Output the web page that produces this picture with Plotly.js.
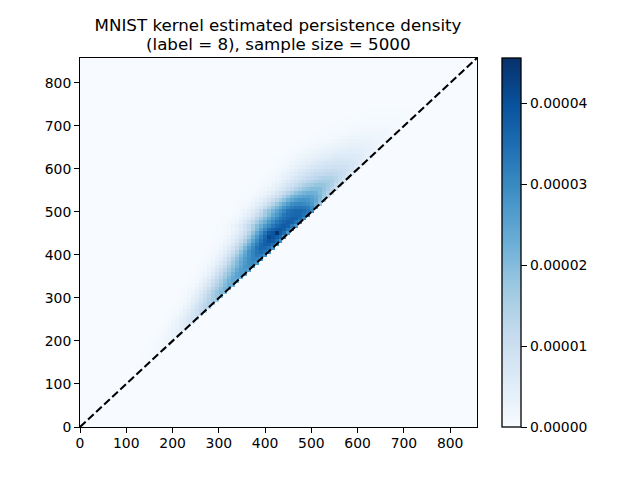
<!DOCTYPE html>
<html><head><meta charset="utf-8">
<script src="https://cdn.plot.ly/plotly-3.0.1.min.js"></script>
<style>html,body{margin:0;padding:0;background:#fff}</style></head>
<body><div id="chart" style="width:640px;height:480px"></div>
<script>
// density values in units of 1e-6; each row is listed from the diagonal going left
const firstRow = 12;
const gridSize = 100;
const cellSize = 8.58;
const densityScale = 1e-6;
const titleLines = ["MNIST kernel estimated persistence density", "(label = 8), sample size = 5000"];
const axisTicks = [0,100,200,300,400,500,600,700,800];
const barTicks = [0,0.00001,0.00002,0.00003,0.00004];
const diagonalEnds = [0,858];
const rows = [
[.1,.1],
[.15,.1,.1],
[.2,.2,.1],
[.25,.25,.15,.1],
[.3,.3,.2,.1],
[.4,.4,.3,.15,.1],
[.5,.5,.4,.2,.1],
[.7,.7,.6,.35,.2,.1],
[1,1,.8,.5,.3,.1],
[1.4,1.3,1.1,.7,.4,.2,.1],
[2,1.8,1.4,1,.6,.3,.1],
[2.4,2.3,1.8,1.2,.8,.4,.2,.1],
[3,2.8,2.2,1.5,1,.5,.2,.1],
[4,3.6,2.9,2,1.3,.7,.3,.1],
[5,4.5,3.6,2.6,1.7,1,.5,.2,.1],
[6.5,5.7,4.5,3.3,2.2,1.4,.7,.3,.1],
[8,7,5.5,4,2.8,1.8,1,.5,.2,.1],
[9.5,8.5,6.7,5,3.4,2.3,1.3,.7,.3,.1],
[11,10,8,6,4,2.8,1.6,.9,.4,.2,.1],
[12.5,11.5,9.5,7.2,5,3.4,2.1,1.2,.6,.3,.1],
[14,13,11,8.5,6,4,2.6,1.5,.8,.4,.2,.1],
[15.5,14.5,12.5,10,7.2,5,3.3,1.9,1.1,.5,.2,.1],
[17,16,14,11.5,8.5,6,4,2.4,1.4,.7,.3,.1],
[18.5,18,16,13,10,7.2,5,3.1,1.8,1,.5,.2,.1],
[20,20,18,15,12,8.5,6,3.8,2.3,1.3,.7,.3,.1],
[21,21.5,19,16,13,10,7,4.6,2.9,1.7,.9,.4,.2,.1],
[22,23,20,17,14,11,8,5.5,3.5,2.1,1.2,.6,.3,.1],
[23,24,22,19,15.5,12.5,9.5,6.5,4.2,2.6,1.5,.8,.4,.1],
[24,25,23.5,20.5,17,14,11,7.5,5,3.2,1.9,1,.5,.2,.1],
[25,26,25,22,18.5,15.5,12,8.7,6,3.9,2.4,1.3,.7,.3,.1],
[26,27,26,23.5,20,17,13,10,7,4.6,2.9,1.7,.9,.5,.2,.1],
[26.5,28.5,27.5,25,21.5,18.5,15,11,8.2,5.5,3.6,2.2,1.2,.7,.3,.1],
[27,30,29,27,24,20.5,17,13,9.5,6.5,4.3,2.7,1.6,.9,.5,.2,.1],
[27.5,31,31,29,26,23,19,15,11,7.7,5.1,3.3,2,1.1,.6,.3,.1],
[28,32,33,31,28,25,21,17,12.5,9,6,4,2.5,1.4,.8,.4,.2,.1],
[28.5,33.5,35,33.5,31,28,23.5,19,14,10.5,7.2,4.7,3,1.8,1,.5,.3,.1],
[29,34,36,36,34,30,26,21,16,12,8.5,5.5,3.6,2.2,1.3,.7,.4,.2,.1],
[29,34.5,37,37.5,35.5,32,28,23,18,13.5,9.7,6.5,4.3,2.7,1.6,.9,.5,.2,.1],
[29,35,38,39,37,34,30,25,20,15,11,7.5,5,3.2,2,1.1,.6,.3,.1],
[28.5,35,38,39.5,41,36,32,27,22,17,12.5,8.7,6,3.9,2.4,1.4,.8,.4,.2,.1],
[28,35,38,45,39,38,34,29,24,19,14,10,7,4.6,3,1.8,1,.5,.3,.1],
[28,33.5,37.5,39,38,36.5,34,30,25.5,20.5,16,12,8.5,5.7,3.7,2.2,1.3,.7,.4,.2,.1],
[28,33,37,38,37,35.5,33,30,27,23,19.5,15.5,12,8.5,6,4,2.5,1.5,.9,.5,.2,.1],
[30,34,37,37.5,36.5,35,33,30,27,23,20,16,12.5,9,6.3,4.3,2.8,1.7,1,.5,.3,.1],
[31,35,37,37,36,34.5,33,30,27,23.5,20,16.5,13,9.5,6.7,4.6,3,1.9,1.1,.6,.3,.2,.1],
[32,34,36,36,35.5,34.5,33,30,27,24,20,16.5,13,10,7,5,3.2,2,1.2,.7,.4,.2,.1],
[30,33,35,36,36,35,34,31,28,25,21.5,18.5,15.5,11.5,8,5.7,3.7,2.3,1.4,.8,.4,.2,.1],
[24,29,32,33,33.5,33,32,30,27.5,24.5,21,18,14.5,11,8,5.7,3.9,2.5,1.6,.9,.5,.2,.1],
[18,23,27,29,30,30.5,30,29,26.5,23.5,20.5,17.5,14,11,8.3,6,4.2,2.8,1.7,1,.6,.3,.1],
[15,20,24,26,27.5,28,27.5,26.5,24.5,22,19,16,13,10.2,7.8,5.7,4.2,3,2,1.2,.7,.4,.2,.1],
[12.5,17,21,23.5,25,25.5,25,24,23,21,18,15,12,9.8,7.5,5.6,4.1,3,2,1.3,.8,.5,.3,.1],
[10,14,17.5,20,22,22.5,22.5,21.5,20.5,18.5,16,13.5,11,9,7,5.3,4,2.9,2,1.3,.8,.5,.3,.2,.1],
[9,13,16,18,20,20,20,19,18,16,14,12,10,8,6.3,4.9,3.7,2.8,1.9,1.3,.8,.5,.3,.2,.1],
[8,11.5,14.5,16.5,18,18,18,17,16,14.5,13,11,9.2,7.7,6.1,4.7,3.6,2.7,1.9,1.3,.8,.5,.3,.2,.1],
[7,10,13,15,16,16,16,15,14,13,12,10.5,9,7.5,6,4.7,3.6,2.7,1.9,1.3,.9,.6,.4,.2,.1],
[6,9,11.5,13.2,14,14.2,14.2,13.5,12.7,12,11,9.7,8.5,7.2,5.9,4.6,3.6,2.7,2,1.4,.9,.6,.4,.2,.1],
[5,8,10,11.5,12,12.5,12.5,12,11.5,11,10,9,8,7,6,5,4,3,2.2,1.5,1,.7,.4,.2,.1],
[4.5,7,8.7,10,10.5,11,11,10.7,10.2,9.7,9,8.2,7.3,6.5,5.5,4.7,3.8,2.9,2.1,1.5,1,.7,.4,.2,.1],
[4,6,7.5,8.5,9,9.5,9.5,9.5,9,8.5,8,7.5,6.7,6,5,4.5,3.6,2.8,2.1,1.5,1,.7,.4,.2,.1],
[3.5,5.2,6.5,7.2,7.7,8.2,8.2,8.2,8,7.5,7,6.5,5.8,5.3,4.5,4,3.3,2.6,2,1.4,1,.7,.4,.2,.1],
[3,4.5,5.5,6,6.5,7,7,7,7,6.5,6,5.5,5,4.6,4,3.5,3,2.5,2,1.5,1.1,.8,.5,.3,.2,.1],
[2.5,3.7,4.6,5.2,5.6,6,6,6,6,5.6,5.2,4.8,4.3,4,3.5,3,2.6,2.2,1.8,1.4,1,.7,.5,.3,.2,.1],
[2,3,3.8,4.3,4.7,5,5,5,5,4.7,4.4,4,3.7,3.3,3,2.6,2.2,1.9,1.5,1.2,.9,.6,.4,.3,.1],
[1.6,2.5,3.2,3.6,3.9,4.2,4.2,4.2,4.2,3.9,3.7,3.4,3.1,2.7,2.5,2.2,1.8,1.6,1.3,1,.8,.5,.3,.2,.1],
[1.2,2,2.6,3,3.2,3.4,3.5,3.5,3.4,3.2,3,2.8,2.5,2.2,2,1.8,1.5,1.3,1,.8,.6,.4,.3,.1],
[1,1.6,2.1,2.4,2.6,2.8,2.9,2.9,2.8,2.6,2.5,2.3,2,1.8,1.6,1.4,1.2,1,.8,.6,.5,.3,.2,.1],
[.8,1.3,1.7,1.9,2.1,2.2,2.3,2.3,2.2,2.1,2,1.8,1.6,1.4,1.2,1,.8,.7,.6,.5,.4,.2,.1],
[.6,1,1.4,1.5,1.7,1.8,1.8,1.8,1.8,1.7,1.6,1.4,1.3,1.1,1,.8,.7,.6,.5,.4,.3,.2,.1],
[.5,.8,1.1,1.2,1.3,1.4,1.4,1.4,1.4,1.3,1.2,1.1,1,.9,.8,.7,.6,.5,.4,.3,.2,.1],
[.4,.6,.8,.9,1,1.1,1.1,1.1,1.1,1,.9,.9,.8,.7,.6,.5,.5,.4,.3,.2,.1],
[.3,.5,.6,.7,.8,.8,.85,.85,.85,.8,.7,.7,.6,.5,.5,.4,.3,.3,.2,.1],
[.2,.35,.45,.5,.6,.6,.65,.65,.65,.6,.55,.5,.45,.4,.35,.3,.2,.2,.1],
[.15,.25,.3,.4,.45,.45,.5,.5,.5,.45,.4,.35,.3,.3,.25,.2,.15,.1],
[.1,.2,.2,.3,.3,.35,.35,.35,.35,.3,.3,.25,.25,.2,.15,.15,.1],
[.05,.1,.15,.2,.2,.25,.25,.25,.25,.2,.2,.15,.15,.1,.1]
];

const zGrid = [];
for (let j = 0; j < gridSize; j++) zGrid.push(new Array(gridSize).fill(0));
rows.forEach((vals, r) => {
  const j = firstRow + r;
  vals.forEach((v, k) => { const i = j - k; if (i >= 0) zGrid[j][i] = v * densityScale; });
});
const blues = [[0,'#f7fbff'],[.125,'#deebf7'],[.25,'#c6dbef'],[.375,'#9ecae1'],[.5,'#6baed6'],[.625,'#4292c6'],[.75,'#2171b5'],[.875,'#08519c'],[1,'#08306b']];
const axisStyle = {
  range: diagonalEnds, tickmode: 'array', tickvals: axisTicks, ticktext: axisTicks.map(String),
  ticks: 'outside', ticklen: 5, tickwidth: 1, tickcolor: '#000', showgrid: false, zeroline: false,
  showline: true, mirror: true, linecolor: '#000', linewidth: 1, automargin: false,
  tickfont: {size: 13.9, color: '#000'}
};
Plotly.newPlot('chart', [
  {type: 'heatmap', z: zGrid, x0: cellSize/2, dx: cellSize, y0: cellSize/2, dy: cellSize,
   colorscale: blues, zmin: 0, zmax: 4.56e-5, zsmooth: false, hoverinfo: 'skip',
   colorbar: {x: 1.063, xanchor: 'left', xpad: 0, ypad: 0, y: 0, yanchor: 'bottom', len: 1, lenmode: 'fraction',
     thickness: 19, thicknessmode: 'pixels', outlinecolor: '#000', outlinewidth: 1.3,
     tickmode: 'array', tickvals: barTicks, ticktext: barTicks.map(v => v.toFixed(5)),
     ticks: 'outside', ticklen: 6, tickwidth: 1, tickcolor: '#000', tickfont: {size: 13.9, color: '#000'}}},
  {type: 'scatter', mode: 'lines', x: diagonalEnds, y: diagonalEnds, hoverinfo: 'skip', showlegend: false,
   line: {color: '#000', width: 2.08, dash: '7.7px,3.3px'}}
], {
  width: 640, height: 480, paper_bgcolor: '#fff', plot_bgcolor: '#f7fbff',
  font: {family: 'DejaVu Sans', color: '#000'},
  margin: {l: 80, r: 163, t: 58, b: 53, pad: 0},
  title: {text: titleLines[0], font: {size: 16.7, color: '#000'}, x: 278/640, xanchor: 'center', y: 1-25/480, yanchor: 'middle'},
  annotations: [{text: titleLines[1], font: {size: 16.7, color: '#000'}, xref: 'paper', yref: 'paper', showarrow: false,
    x: (278-80)/397, xanchor: 'center', y: 1+(58-44.5)/369, yanchor: 'middle'}],
  xaxis: Object.assign({}, axisStyle, {ticklabelstandoff: -2}), yaxis: Object.assign({}, axisStyle),
  showlegend: false
}, {displayModeBar: false, staticPlot: true});
</script></body></html>
